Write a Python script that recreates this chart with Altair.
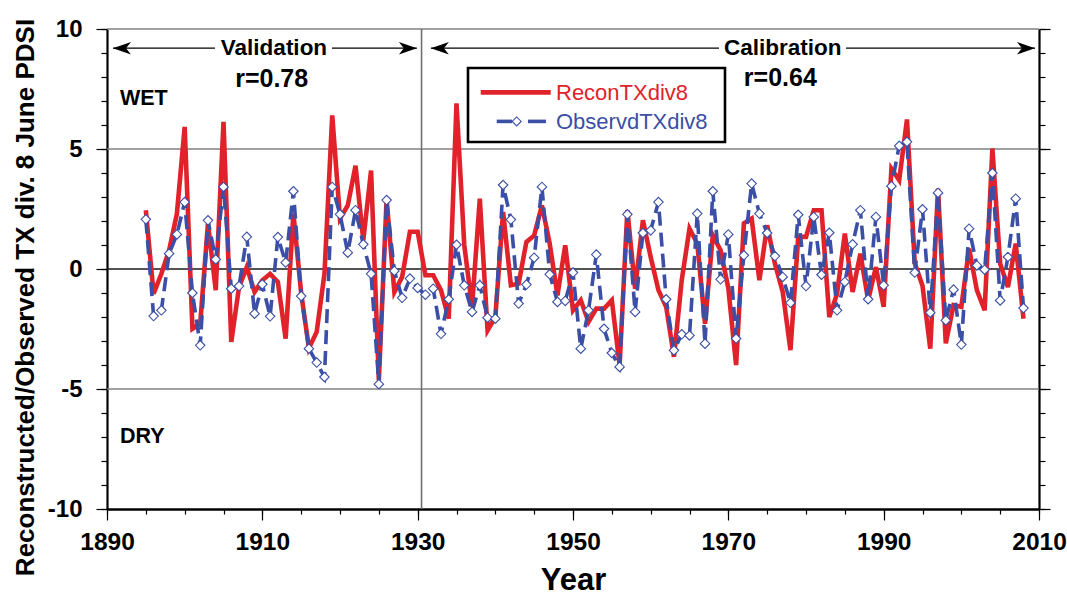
import altair as alt
import pandas as pd

# ---------------------------------------------------------------- data
years = list(range(1895, 2009))

recon = [
    2.45, -1.03, -0.20, 0.78, 2.30, 5.92, -2.49, -2.28, 1.90, -0.88,   # 1895-1904
    6.13, -3.04, -0.75, 0.08, -0.96, -0.47, -0.20, -0.54, -2.90, 2.30,  # 1905-1914
    -1.00, -3.30, -2.62, -0.20, 6.40, 2.10, 2.65, 4.30, 1.20, 4.10,     # 1915-1924
    -4.64, 2.90, -0.96, -0.33, 1.55, 1.55, -0.26, -0.26, -0.88, -2.07,  # 1925-1934
    6.90, 1.00, -1.58, 2.93, -2.56, -2.00, 2.38, -0.68, -0.61, 1.13,    # 1935-1944
    1.40, 2.65, 1.06, -1.10, 0.99, -1.72, -1.30, -2.20, -1.65, -1.65,   # 1945-1954
    -1.30, -4.00, 2.45, -0.82, 2.03, 0.50, -0.88, -1.58, -3.66, -0.47,  # 1955-1964
    1.68, 1.06, -2.28, 1.40, 0.78, -0.80, -4.00, 1.90, 2.10, -0.47,     # 1965-1974
    1.82, 0.22, -0.95, -3.38, 1.34, 1.34, 2.45, 2.45, -2.00, -1.03,     # 1975-1984
    1.48, -0.96, 0.64, -1.30, 0.08, -1.58, 4.18, 3.70, 6.23, 0.25,      # 1985-1994
    -0.70, -3.32, 3.35, -3.10, -1.50, -1.58, 0.85, -0.88, -1.72, 5.02,  # 1995-2004
    0.22, -0.75, 1.06, -2.07,                                           # 2005-2008
]

observed = [
    2.07, -1.96, -1.72, 0.64, 1.44, 2.79, -1.00, -3.18, 2.03, 0.40,     # 1895-1904
    3.42, -0.82, -0.71, 1.34, -1.86, -0.64, -1.97, 1.33, 0.27, 3.24,    # 1905-1914
    -1.13, -3.32, -3.90, -4.50, 3.42, 2.28, 0.68, 2.45, 1.03, -0.20,    # 1915-1924
    -4.80, 2.87, -0.08, -1.20, -0.40, -0.79, -1.07, -0.82, -2.70, -1.26, # 1925-1934
    1.01, -0.68, -1.79, -0.68, -2.03, -2.07, 3.50, 2.06, -1.44, -0.65,  # 1935-1944
    0.47, 3.42, -0.22, -1.37, -1.33, -0.15, -3.32, -1.72, 0.60, -2.49,  # 1945-1954
    -3.50, -4.08, 2.28, -1.79, 1.50, 1.61, 2.79, -1.26, -3.39, -2.72,   # 1955-1964
    -2.77, 2.31, -3.11, 3.24, -0.43, 1.44, -2.90, 0.57, 3.56, 2.31,     # 1965-1974
    1.50, 0.54, -0.33, -1.41, 2.26, -0.71, 2.17, -0.24, 1.51, -1.72,    # 1975-1984
    -0.54, 1.03, 2.45, -1.26, 2.17, -0.68, 3.45, 5.13, 5.30, -0.15,     # 1985-1994
    2.49, -1.82, 3.17, -2.14, -0.86, -3.15, 1.68, 0.15, -0.03, 4.00,    # 1995-2004
    -1.31, 0.50, 2.93, -1.63,                                           # 2005-2008
]

x_ticks = [1890, 1910, 1930, 1950, 1970, 1990, 2010]
y_ticks = [-10, -5, 0, 5, 10]
grid_gray = [10, 5, -5]
split_year = [1930.5]

# period annotations
period_names = ["Validation", "Calibration"]
period_x = [1911.5, 1977.0]
period_r = ["r=0.78", "r=0.64"]
period_r_x = [1911.2, 1976.7]
arrow_y = 9.2
arrow_from = [1890.77, 1918.97, 1931.7, 1985.15]
arrow_to = [1903.9, 1929.9, 1968.8, 2009.48]
left_tips = [1890.77, 1931.7]
right_tips = [1929.9, 2009.48]

# ---------------------------------------------------------------- style
RED = "#E1222B"
BLUE = "#3A4FA5"
FONT = "Liberation Sans"
W, H = 932, 480
XMIN, XMAX = 1890, 2010
head_len_years = 18 / (W / (XMAX - XMIN)) / 2

df = pd.DataFrame({"Year": years, "Recon": recon, "Observed": observed})

xs = alt.Scale(domain=[XMIN, XMAX], nice=False, zero=False)
ys = alt.Scale(domain=[-10, 10], nice=False, zero=False)

# gridlines at +/-5 and the top edge, plus right-hand minor ticks
grid = alt.Chart(pd.DataFrame({"v": grid_gray})).mark_rule(
    color="#808080", strokeWidth=1.6
).encode(
    y=alt.Y("v:Q", scale=ys, axis=alt.Axis(
        orient="right", values=list(range(-10, 11)), tickSize=6, tickWidth=1.2,
        tickColor="black", labels=False, domain=False, grid=False, title=None))
)

zero = alt.Chart(pd.DataFrame({"v": [0]})).mark_rule(
    color="#1a1a1a", strokeWidth=1.4
).encode(y=alt.Y("v:Q", scale=ys, axis=None))

# validation / calibration split, carries the minor x ticks
split = alt.Chart(pd.DataFrame({"x": split_year})).mark_rule(
    color="#707070", strokeWidth=1.6
).encode(
    x=alt.X("x:Q", scale=xs, axis=alt.Axis(
        orient="bottom", values=list(range(1890, 2011, 5)), tickSize=5,
        tickWidth=1.2, tickColor="black", labels=False, domain=False,
        grid=False, title=None))
)

num_label = "'' + datum.value"

red_line = alt.Chart(df).mark_line(color=RED, strokeWidth=4.6).encode(
    x=alt.X("Year:Q", scale=xs, axis=alt.Axis(
        orient="bottom", values=x_ticks, labelExpr=num_label, title="Year",
        tickSize=11, tickWidth=1.2, tickColor="black",
        domainColor="black", domainWidth=2.6,
        labelFont=FONT, labelFontSize=24.5, labelFontWeight="bold",
        labelColor="black", labelPadding=10, labelFlush=False,
        titleFont=FONT, titleFontSize=31, titleFontWeight="bold",
        titleColor="black", titleBaseline="alphabetic", titleY=80,
        grid=False)),
    y=alt.Y("Recon:Q", scale=ys, axis=alt.Axis(
        orient="left", values=y_ticks, labelExpr=num_label,
        title="Reconstructed/Observed TX div. 8 June PDSI",
        tickSize=11, tickWidth=1.2, tickColor="black",
        domainColor="black", domainWidth=2.2,
        labelFont=FONT, labelFontSize=24, labelFontWeight="bold",
        labelColor="black", labelPadding=14, labelFlush=False,
        titleFont=FONT, titleFontSize=26, titleFontWeight="bold",
        titleColor="black", titleBaseline="alphabetic", titleAngle=270,
        titleX=-74, titleY=268, grid=False)),
)

blue_line = alt.Chart(df).mark_line(
    color=BLUE, strokeWidth=3.6, strokeDash=[14, 7]
).encode(
    x=alt.X("Year:Q", scale=xs, axis=None),
    y=alt.Y("Observed:Q", scale=ys, axis=alt.Axis(
        orient="left", values=list(range(-10, 11)), tickSize=6, tickWidth=1.2,
        tickColor="black", labels=False, domain=False, grid=False, title=None)),
)

blue_pts = alt.Chart(df).mark_point(
    shape="diamond", filled=True, fill="white", stroke=BLUE, strokeWidth=1.1,
    size=90, opacity=1
).encode(
    x=alt.X("Year:Q", scale=xs, axis=None),
    y=alt.Y("Observed:Q", scale=ys, axis=alt.Axis(
        orient="right", values=y_ticks, tickSize=11, tickWidth=1.2,
        tickColor="black", labels=False, domain=True, domainColor="black",
        domainWidth=2.2, grid=False, title=None)),
)

# ---------------------------------------------------------------- annotations
arrows = alt.Chart(pd.DataFrame({"x": arrow_from, "x2": arrow_to,
                                 "y": [arrow_y] * 4})).mark_rule(
    color="black", strokeWidth=1.3
).encode(x=alt.X("x:Q", scale=xs, axis=None), x2="x2:Q",
         y=alt.Y("y:Q", scale=ys, axis=None))

heads_l = alt.Chart(pd.DataFrame({
    "x": [t + head_len_years for t in left_tips], "y": [arrow_y] * 2})
).mark_point(shape="M-1,0L1,-0.7L0.45,0L1,0.7Z", filled=True, color="black",
             size=324, opacity=1, strokeWidth=0).encode(
    x=alt.X("x:Q", scale=xs, axis=None), y=alt.Y("y:Q", scale=ys, axis=None))

heads_r = alt.Chart(pd.DataFrame({
    "x": [t - head_len_years for t in right_tips], "y": [arrow_y] * 2})
).mark_point(shape="M1,0L-1,-0.7L-0.45,0L-1,0.7Z", filled=True, color="black",
             size=324, opacity=1, strokeWidth=0).encode(
    x=alt.X("x:Q", scale=xs, axis=None), y=alt.Y("y:Q", scale=ys, axis=None))

names = alt.Chart(pd.DataFrame({"x": period_x, "y": [9.2] * 2,
                                "t": period_names})).mark_text(
    font=FONT, fontSize=22.5, fontWeight="bold", color="black",
    align="center", baseline="middle"
).encode(x=alt.X("x:Q", scale=xs, axis=None),
         y=alt.Y("y:Q", scale=ys, axis=None), text="t:N")

rvals = alt.Chart(pd.DataFrame({"x": period_r_x, "y": [7.9, 7.95],
                                "t": period_r})).mark_text(
    font=FONT, fontSize=25, fontWeight="bold", color="black",
    align="center", baseline="middle"
).encode(x=alt.X("x:Q", scale=xs, axis=None),
         y=alt.Y("y:Q", scale=ys, axis=None), text="t:N")

wetdry = alt.Chart(pd.DataFrame({"x": [1891.67, 1891.67], "y": [7.07, -7.01],
                                 "t": ["WET", "DRY"]})).mark_text(
    font=FONT, fontSize=21.5, fontWeight="bold", color="black",
    align="left", baseline="middle"
).encode(x=alt.X("x:Q", scale=xs, axis=None),
         y=alt.Y("y:Q", scale=ys, axis=None), text="t:N")

# ---------------------------------------------------------------- legend
leg_box = alt.Chart(pd.DataFrame({"x": [1936.48], "x2": [1969.57],
                                  "y": [8.375], "y2": [5.29]})).mark_rect(
    fill="white", stroke="black", strokeWidth=2.6
).encode(x=alt.X("x:Q", scale=xs, axis=None), x2="x2:Q",
         y=alt.Y("y:Q", scale=ys, axis=None), y2="y2:Q")

leg_red = alt.Chart(pd.DataFrame({"x": [1938.12], "x2": [1947.13],
                                  "y": [7.36]})).mark_rule(
    color=RED, strokeWidth=4.6
).encode(x=alt.X("x:Q", scale=xs, axis=None), x2="x2:Q",
         y=alt.Y("y:Q", scale=ys, axis=None))

leg_blue = alt.Chart(pd.DataFrame({"x": [1940.18, 1944.2], "x2": [1942.15, 1946.52],
                                   "y": [6.15, 6.15]})).mark_rule(
    color=BLUE, strokeWidth=3.6
).encode(x=alt.X("x:Q", scale=xs, axis=None), x2="x2:Q",
         y=alt.Y("y:Q", scale=ys, axis=None))

leg_diamond = alt.Chart(pd.DataFrame({"x": [1942.75], "y": [6.15]})).mark_point(
    shape="diamond", filled=True, fill="white", stroke=BLUE, strokeWidth=1.1,
    size=80, opacity=1
).encode(x=alt.X("x:Q", scale=xs, axis=None),
         y=alt.Y("y:Q", scale=ys, axis=None))

leg_text = alt.Chart(pd.DataFrame({"x": [1947.81, 1947.81], "y": [7.33, 6.14],
                                   "t": ["ReconTXdiv8", "ObservdTXdiv8"],
                                   "c": [RED, BLUE]})).mark_text(
    font=FONT, fontSize=22, align="left", baseline="middle"
).encode(x=alt.X("x:Q", scale=xs, axis=None),
         y=alt.Y("y:Q", scale=ys, axis=None), text="t:N",
         color=alt.Color("c:N", scale=None))

chart = alt.layer(
    grid, zero, split, red_line, blue_line, blue_pts,
    arrows, heads_l, heads_r, names, rvals, wetdry,
    leg_box, leg_red, leg_blue, leg_diamond, leg_text,
).resolve_axis(x="independent", y="independent").properties(
    width=W, height=H,
    autosize=alt.AutoSizeParams(type="none"),
    padding={"left": 107, "top": 29, "right": 28, "bottom": 88},
    background="white",
).configure_view(stroke=None)

chart.save("out.html", embed_options={"renderer": "svg", "actions": False})
